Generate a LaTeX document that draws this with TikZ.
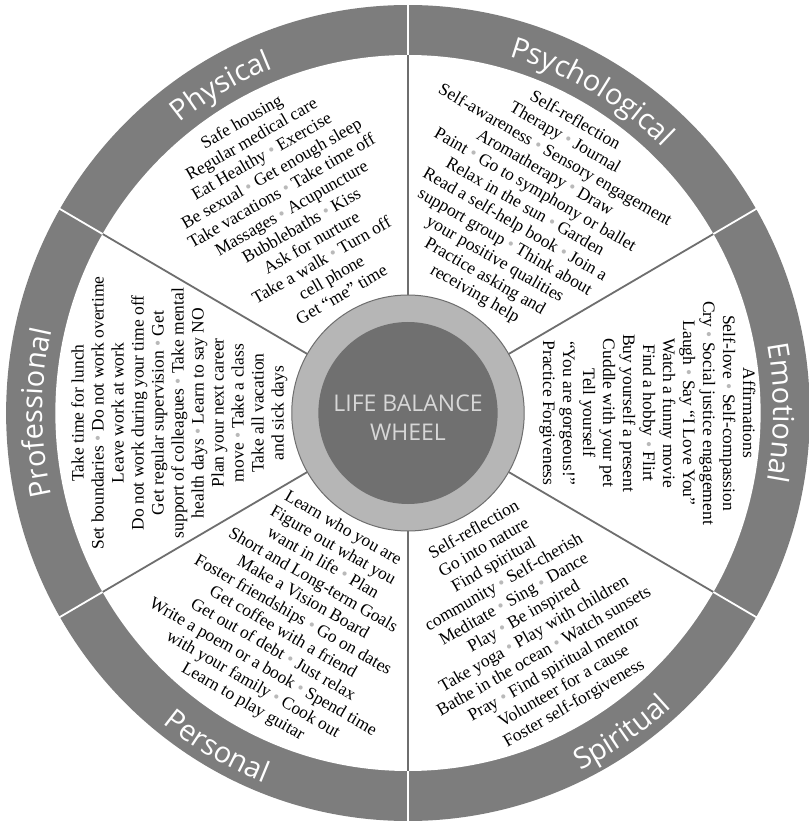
\documentclass[tikz,border=0pt]{standalone}
\usepackage{fontspec}
\setmainfont{Liberation Serif}
\newfontfamily\bandfont{Open Sans}
\usetikzlibrary{decorations.text}
\definecolor{bandgray}{RGB}{125,125,125}
\definecolor{hubgray}{RGB}{112,112,112}
\definecolor{ringgray}{RGB}{182,182,182}
\definecolor{hubtext}{RGB}{215,215,215}
\definecolor{linegray}{RGB}{110,110,110}
\newcommand{\itemdot}{~\textcolor{gray!55}{\textbullet}~}
\tikzset{
  itemtext/.style={font=\fontsize{17.5}{20}\selectfont, align=center, inner sep=0pt},
  divider/.style={linegray, line width=1.8pt},
  banddivider/.style={white, line width=1.8pt},
  bandlabel/.style={decorate, decoration={text along path, text align=center,
     text format delimiters={|}{|}, text={|\bandfont\fontsize{29}{29}\selectfont\color{white}|#1}}}
}
\begin{document}
\begin{tikzpicture}[x=0.985pt,y=1pt]
\def\Rout{408}
\def\Rin{358}
\def\Rhub{118}
\useasboundingbox[fill=white] (-414.2,-412) rectangle (407.1,413);
%% Outer band and white sectors
\fill[bandgray] (0,0) circle (\Rout);
\fill[white] (0,0) circle (\Rin);
%% Sector dividers
\foreach \ang in {90,30,-30,-90,-150,150} {
   \draw[divider] (\ang:\Rhub) -- (\ang:\Rin);
   \draw[banddivider] (\ang:\Rin) -- (\ang:\Rout+2);
}
%% Hub
\draw[linegray, fill=ringgray, line width=1pt] (0,0) circle (\Rhub);
\fill[hubgray] (0,0) circle (91);
\node[font=\bandfont\fontsize{23}{29}\selectfont, text=hubtext, align=center] (hub) at (0,-5)
   {LIFE BALANCE\\WHEEL};
%% Band labels
\path[bandlabel=Physical] (160:371) arc[start angle=160, end angle=80, radius=371];
\path[bandlabel=Psychological] (100:371) arc[start angle=100, end angle=20, radius=371];
\path[bandlabel=Emotional] (40:371) arc[start angle=40, end angle=-40, radius=371];
\path[bandlabel=Spiritual] (-96:398) arc[start angle=-96, end angle=-16, radius=398];
\path[bandlabel=Personal] (-160:398) arc[start angle=-160, end angle=-80, radius=398];
\path[bandlabel=Professional] (220:371) arc[start angle=220, end angle=140, radius=371];
%% Sector texts
\node[itemtext, rotate=30] (physical) at (120:237) {Safe housing\\Regular medical care\\
   Eat Healthy\itemdot Exercise\\Be sexual\itemdot Get enough sleep\\
   Take vacations\itemdot Take time off\\Massages\itemdot Acupuncture\\
   Bubblebaths\itemdot Kiss\\Ask for nurture\\Take a walk\itemdot Turn off\\
   cell phone\\Get ``me'' time};
\node[itemtext, rotate=-30] (psychological) at (60:237) {Self-reflection\\
   Therapy\itemdot Journal\\Self-awareness\itemdot Sensory engagement\\
   Aromatherapy\itemdot Draw\\Paint\itemdot Go to symphony or ballet\\
   Relax in the sun\itemdot Garden\\Read a self-help book\itemdot Join a\\
   support group\itemdot Think about\\your positive qualities\\
   Practice asking and\\receiving help};
\node[itemtext, rotate=-90] (emotional) at (0:243) {Affirmations\\
   Self-love\itemdot Self-compassion\\Cry\itemdot Social justice engagement\\
   Laugh\itemdot Say ``I Love You''\\Watch a funny movie\\
   Find a hobby\itemdot Flirt\\Buy yourself a present\\Cuddle with your pet\\
   Tell yourself\\``You are gorgeous!''\\Practice Forgiveness};
\node[itemtext, rotate=30] (spiritual) at (-60:236) {Self-reflection\\
   Go into nature\\Find spiritual\\community\itemdot Self-cherish\\
   Meditate\itemdot Sing\itemdot Dance\\Play\itemdot Be inspired\\
   Take yoga\itemdot Play with children\\Bathe in the ocean\itemdot Watch sunsets\\
   Pray\itemdot Find spiritual mentor\\Volunteer for a cause\\
   Foster self-forgiveness};
\node[itemtext, rotate=-30] (personal) at (-120:234) {Learn who you are\\
   Figure out what you\\want in life\itemdot Plan\\Short and Long-term Goals\\
   Make a Vision Board\\Foster friendships\itemdot Go on dates\\
   Get coffee with a friend\\Get out of debt\itemdot Just relax\\
   Write a poem or a book\itemdot Spend time\\with your family\itemdot Cook out\\
   Learn to play guitar};
\node[itemtext, rotate=90] (professional) at (180:232) {Take time for lunch\\
   Set boundaries\itemdot Do not work overtime\\Leave work at work\\
   Do not work during your time off\\Get regular supervision\itemdot Get\\
   support of colleagues\itemdot Take mental\\health days\itemdot Learn to say NO\\
   Plan your next career\\move\itemdot Take a class\\Take all vacation\\
   and sick days};
\end{tikzpicture}
\end{document}
